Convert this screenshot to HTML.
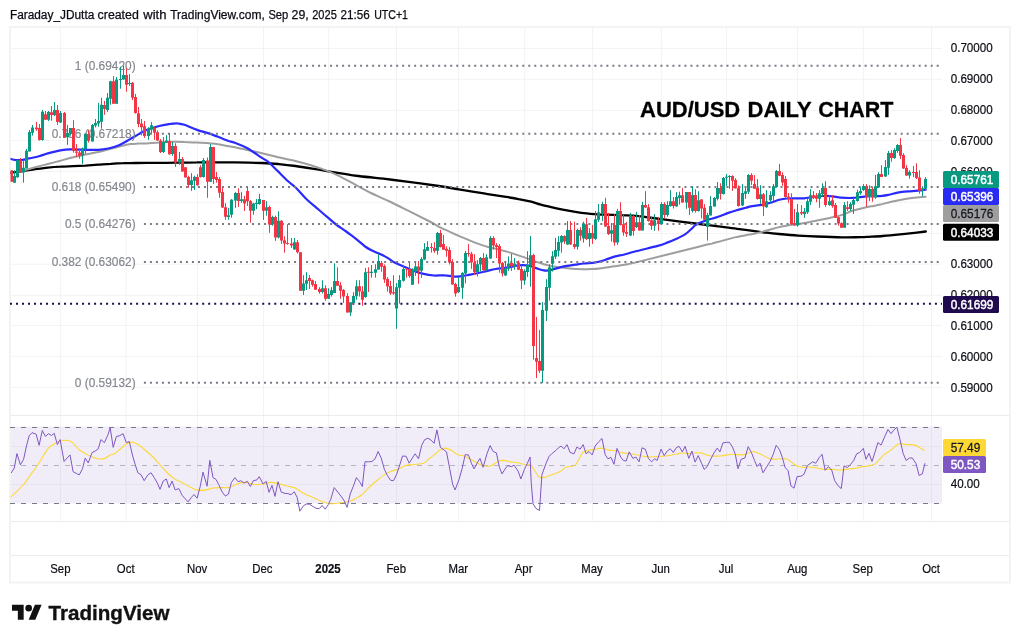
<!DOCTYPE html>
<html lang="en">
<head>
<meta charset="utf-8">
<title>AUD/USD Daily Chart</title>
<style>
html,body{margin:0;padding:0;background:#fff;}
body{width:1020px;height:643px;overflow:hidden;font-family:"Liberation Sans", sans-serif;}
svg{display:block;}
</style>
</head>
<body>
<svg width="1020" height="643" viewBox="0 0 1020 643" font-family='"Liberation Sans", sans-serif'>
<rect width="1020" height="643" fill="#fff"/>
<path d="M60.4 27V521.5M126.2 27V521.5M197.5 27V521.5M263.5 27V521.5M328.7 27V521.5M396.5 27V521.5M458.5 27V521.5M524.7 27V521.5M592.6 27V521.5M661.3 27V521.5M726.5 27V521.5M797.5 27V521.5M863.6 27V521.5M931.5 27V521.5M10 48.4H942M10 79.3H942M10 110.4H942M10 140.4H942M10 171.4H942M10 202.3H942M10 233.4H942M10 264.2H942M10 295.3H942M10 325.5H942M10 356.3H942M10 387.4H942M10 446.5H942M10 484.5H942" stroke="#f3f3f4" stroke-width="1" fill="none"/>
<rect x="10" y="426.5" width="932" height="77.0" fill="#7e57c2" fill-opacity="0.11"/>
<path d="M10 415.5H1010M10 521.5H1010M10 555.5H1010" stroke="#ebebed" stroke-width="1" fill="none"/>
<rect x="10" y="27" width="1000" height="555.5" fill="none" stroke="#f3f3f4" stroke-width="2"/>
<clipPath id="pc"><rect x="10.5" y="27" width="931.5" height="495"/></clipPath>
<text y="18.9" font-size="12" fill="#0b0d14" stroke="#0b0d14" stroke-width="0.25"><tspan x="9.9" textLength="84.4" lengthAdjust="spacingAndGlyphs">Faraday_JDutta</tspan> <tspan x="97.6" textLength="41.2" lengthAdjust="spacingAndGlyphs">created</tspan> <tspan x="143.3" textLength="23.2" lengthAdjust="spacingAndGlyphs">with</tspan> <tspan x="170.2" textLength="94.6" lengthAdjust="spacingAndGlyphs">TradingView.com,</tspan> <tspan x="268.4" textLength="19.8" lengthAdjust="spacingAndGlyphs">Sep</tspan> <tspan x="291.5" textLength="17.2" lengthAdjust="spacingAndGlyphs">29,</tspan> <tspan x="312.2" textLength="24.6" lengthAdjust="spacingAndGlyphs">2025</tspan> <tspan x="340.6" textLength="29.2" lengthAdjust="spacingAndGlyphs">21:56</tspan> <tspan x="374.2" textLength="33.8" lengthAdjust="spacingAndGlyphs">UTC+1</tspan></text>
<g clip-path="url(#pc)">
<path d="M10.0 172.8C12.1 172.6 18.4 171.8 22.6 171.2C26.8 170.6 31.0 169.8 35.2 169.2C39.4 168.6 43.6 168.1 47.8 167.6C52.0 167.2 56.2 166.9 60.4 166.7C64.6 166.4 68.8 166.3 73.0 166.1C77.2 165.9 81.4 165.8 85.6 165.6C89.8 165.3 94.0 165.0 98.2 164.7C102.4 164.4 106.6 164.0 110.8 163.8C115.0 163.5 119.2 163.3 123.4 163.2C127.6 163.0 130.0 163.1 136.0 163.0C142.0 163.0 154.1 162.9 159.2 162.8C164.3 162.8 162.6 162.8 166.8 162.8C171.0 162.7 179.4 162.7 184.4 162.6C189.4 162.5 192.8 162.4 197.0 162.4C201.2 162.3 205.4 162.4 209.6 162.4C213.8 162.4 218.0 162.3 222.2 162.3C226.4 162.3 228.2 162.3 234.8 162.4C241.4 162.6 254.8 162.8 262.0 163.0C269.2 163.3 272.5 163.5 278.1 164.0C283.7 164.5 287.3 164.8 295.6 166.0C304.0 167.2 317.8 169.7 328.3 171.3C338.7 173.0 349.2 174.7 358.4 176.0C367.6 177.2 375.1 177.8 383.5 178.7C391.9 179.7 399.4 180.7 408.6 181.9C417.8 183.1 430.3 184.8 438.7 186.0C447.1 187.3 451.3 188.1 458.8 189.4C466.3 190.6 476.0 192.2 483.9 193.4C491.8 194.7 500.2 196.0 506.0 196.9C511.8 197.8 514.4 198.2 518.6 199.1C522.8 199.9 527.6 200.9 531.2 201.7C534.8 202.6 536.9 203.5 540.0 204.4C543.2 205.3 546.3 206.0 550.1 206.9C553.9 207.8 558.5 208.8 562.7 209.6C566.9 210.4 571.3 211.2 575.3 211.8C579.3 212.5 583.5 213.1 586.6 213.4C589.8 213.8 590.8 213.9 594.2 214.1C597.5 214.3 602.6 214.6 606.8 214.7C611.0 214.9 614.9 214.9 619.4 215.1C623.9 215.2 630.1 215.4 634.0 215.7C637.9 215.9 638.0 216.1 642.6 216.6C647.2 217.2 655.2 218.3 661.5 219.2C667.8 220.0 674.1 220.8 680.4 221.6C686.7 222.4 693.0 223.2 699.3 224.0C705.6 224.8 711.9 225.6 718.2 226.4C724.5 227.2 730.5 227.9 737.1 228.8C743.7 229.7 753.1 231.0 758.0 231.7C762.9 232.4 763.1 232.4 766.6 232.7C770.1 233.1 773.9 233.5 779.2 234.0C784.4 234.5 791.8 235.2 798.1 235.6C804.4 236.0 809.6 236.3 817.0 236.5C824.3 236.8 834.8 237.2 842.2 237.3C849.5 237.4 857.0 237.2 861.1 237.2C865.2 237.1 863.1 237.0 866.7 236.8C870.3 236.6 877.1 236.4 882.7 236.0C888.2 235.6 894.3 235.0 900.0 234.4C905.7 233.8 912.4 233.1 916.7 232.6C921.0 232.1 924.3 231.7 925.8 231.5" stroke="#000" stroke-width="2.3" fill="none" stroke-linejoin="round" stroke-linecap="round"/>
<path d="M25.1 170.1C26.8 169.6 31.4 168.3 35.2 167.3C39.0 166.3 43.6 165.1 47.8 164.0C52.0 162.9 56.2 161.9 60.4 160.8C64.6 159.6 68.8 158.3 73.0 157.3C77.2 156.2 81.4 155.5 85.6 154.6C89.8 153.7 94.0 152.9 98.2 152.0C102.4 151.0 106.6 149.9 110.8 148.8C115.0 147.8 120.0 146.3 123.4 145.5C126.7 144.7 128.5 144.3 130.9 144.0C133.4 143.7 135.4 143.7 138.0 143.6C140.6 143.5 143.1 143.6 146.6 143.4C150.1 143.2 155.0 142.6 159.2 142.4C163.4 142.1 167.6 141.9 171.8 141.8C176.0 141.7 180.2 141.8 184.4 142.0C188.6 142.1 192.8 142.4 197.0 142.6C201.2 142.8 205.4 142.8 209.6 143.2C213.8 143.5 218.0 144.2 222.2 144.9C226.4 145.6 230.6 146.5 234.8 147.3C239.0 148.2 242.9 148.9 247.4 149.9C251.9 150.8 256.9 151.9 262.0 153.2C267.1 154.4 272.1 155.9 278.1 157.3C284.1 158.8 291.0 159.9 298.2 161.7C305.3 163.6 314.1 166.1 320.7 168.4C327.4 170.8 332.0 172.6 338.3 175.6C344.6 178.6 353.0 183.5 358.4 186.4C363.8 189.3 365.9 190.6 370.9 193.0C376.0 195.4 382.2 198.0 388.5 201.0C394.8 203.9 401.9 207.5 408.6 210.8C415.3 214.2 423.2 218.2 428.7 221.0C434.1 223.8 437.7 226.0 441.2 227.8C444.8 229.6 447.3 230.6 450.0 231.9C452.8 233.1 454.2 234.0 457.6 235.4C461.0 236.9 466.0 238.9 470.2 240.6C474.4 242.3 479.4 244.3 482.8 245.4C486.1 246.6 487.2 246.7 490.3 247.5C493.5 248.3 498.4 249.3 501.7 250.2C505.0 251.0 507.6 251.9 510.0 252.6C512.4 253.3 513.4 253.7 516.1 254.6C518.8 255.5 523.0 257.0 526.2 258.1C529.3 259.2 532.0 260.4 535.0 261.4C537.9 262.4 540.6 263.3 543.8 264.2C546.9 265.0 550.5 265.8 553.9 266.4C557.2 267.0 560.2 267.4 564.0 267.8C567.7 268.2 571.9 268.7 576.6 268.9C581.2 269.1 587.0 269.3 591.7 269.1C596.3 268.9 600.1 268.3 604.3 267.8C608.5 267.3 613.1 266.5 616.9 265.9C620.6 265.3 624.1 264.8 626.9 264.3C629.8 263.8 621.7 265.9 634.0 262.9C646.3 259.9 687.6 249.4 700.6 246.2C713.5 242.9 707.9 244.6 711.9 243.6C715.9 242.5 720.3 241.2 724.5 240.1C728.7 239.0 732.9 237.9 737.1 236.9C741.3 236.0 746.2 235.2 749.7 234.5C753.2 233.9 755.2 233.6 758.0 232.9C760.8 232.2 763.1 231.5 766.6 230.5C770.1 229.6 775.0 228.1 779.2 227.1C783.4 226.2 787.6 225.3 791.8 224.7C796.0 224.0 800.2 223.7 804.4 223.0C808.6 222.3 812.8 221.3 817.0 220.5C821.2 219.6 825.4 218.8 829.6 217.9C833.8 217.0 838.4 216.1 842.2 214.9C846.0 213.7 848.6 212.0 852.3 210.8C855.9 209.6 860.7 208.5 864.2 207.7C867.8 206.9 871.0 206.4 873.7 205.9C876.4 205.4 877.4 205.2 880.3 204.6C883.3 203.9 887.4 202.7 891.3 201.8C895.2 200.9 899.7 200.0 903.9 199.3C908.1 198.6 912.9 198.0 916.5 197.6C920.1 197.2 924.0 196.8 925.6 196.7" stroke="#9e9e9e" stroke-width="2.0" fill="none" stroke-linejoin="round" stroke-linecap="round"/>
<path d="M10.0 158.7C11.0 159.0 14.2 159.9 16.3 160.1C18.4 160.3 20.5 160.2 22.6 159.9C24.7 159.6 26.2 159.0 28.9 158.4C31.6 157.8 35.8 157.2 39.0 156.3C42.1 155.5 44.2 154.4 47.8 153.4C51.4 152.4 56.6 151.0 60.4 150.3C64.2 149.6 66.3 149.4 70.5 149.3C74.7 149.2 81.0 149.8 85.6 149.9C90.2 149.9 94.4 150.0 98.2 149.8C102.0 149.6 104.7 149.3 108.3 148.5C111.8 147.7 116.0 146.4 119.6 144.9C123.2 143.4 126.4 141.3 129.7 139.4C132.9 137.6 136.3 135.5 139.1 133.9C142.0 132.4 143.3 131.2 146.6 129.9C149.9 128.6 155.2 127.0 159.2 126.0C163.2 125.0 167.4 124.3 170.5 123.9C173.7 123.4 175.8 123.4 178.1 123.5C180.4 123.7 181.2 123.7 184.4 124.8C187.5 125.9 192.8 128.4 197.0 129.9C201.2 131.4 205.4 132.2 209.6 133.6C213.8 135.0 219.0 137.3 222.2 138.5C225.3 139.7 226.4 140.2 228.5 141.0C230.6 141.7 231.6 141.6 234.8 142.8C237.9 144.0 242.9 145.7 247.4 148.2C251.9 150.8 258.6 155.7 262.0 157.9C265.4 160.2 265.4 159.4 268.0 161.6C270.7 163.9 274.7 168.1 278.1 171.4C281.4 174.7 285.2 178.6 288.1 181.3C291.0 184.0 292.5 184.4 295.6 187.5C298.8 190.5 303.3 196.1 307.1 199.8C310.9 203.4 314.9 206.4 318.5 209.5C322.0 212.6 325.6 215.7 328.6 218.2C331.5 220.7 333.2 222.3 336.1 224.5C339.0 226.7 342.8 229.1 346.2 231.5C349.5 234.0 353.1 236.6 356.3 239.1C359.4 241.6 362.6 244.6 365.1 246.5C367.6 248.3 369.1 249.1 371.4 250.3C373.7 251.5 376.3 252.4 378.9 253.6C381.6 254.8 384.5 256.1 387.1 257.6C389.8 259.1 391.9 261.0 394.6 262.5C397.3 264.0 400.3 265.1 403.4 266.4C406.6 267.8 410.1 269.5 413.5 270.7C416.9 272.0 420.2 273.1 423.6 273.9C426.9 274.7 430.1 275.2 433.7 275.5C437.2 275.7 441.8 275.2 445.0 275.4C448.1 275.5 450.0 276.2 452.6 276.4C455.1 276.6 457.2 276.7 460.1 276.4C463.0 276.1 466.4 275.3 470.2 274.6C474.0 273.9 478.6 273.0 482.8 272.0C487.0 271.1 492.0 269.7 495.4 269.0C498.7 268.4 500.5 268.4 502.9 268.1C505.4 267.8 507.4 267.7 510.0 267.2C512.6 266.7 515.5 265.5 518.6 265.3C521.7 265.0 525.6 265.0 528.7 265.6C531.7 266.1 534.3 267.6 536.9 268.4C539.4 269.2 541.8 270.1 543.8 270.4C545.8 270.8 546.7 270.6 548.8 270.3C550.9 269.9 553.9 269.1 556.4 268.4C558.9 267.8 560.8 267.0 564.0 266.4C567.1 265.8 571.9 265.2 575.3 264.7C578.7 264.2 581.0 263.8 584.1 263.5C587.3 263.1 590.8 263.2 594.2 262.7C597.5 262.1 600.9 261.2 604.3 260.2C607.6 259.2 611.0 257.6 614.3 256.6C617.7 255.7 621.1 255.3 624.4 254.5C627.7 253.7 628.5 253.2 634.0 251.8C639.5 250.3 652.1 247.4 657.7 245.9C663.3 244.3 664.6 243.6 667.8 242.4C670.9 241.2 673.7 240.0 676.6 238.7C679.6 237.3 683.1 235.6 685.4 234.1C687.7 232.6 688.8 231.3 690.5 229.8C692.2 228.3 693.8 226.3 695.5 225.0C697.2 223.8 698.5 223.3 700.6 222.4C702.7 221.5 705.2 220.8 708.1 219.8C711.0 218.9 714.8 218.0 718.2 216.8C721.5 215.7 725.1 214.0 728.3 212.9C731.4 211.8 734.1 211.0 737.1 210.1C740.0 209.3 743.6 208.4 745.9 207.8C748.2 207.2 748.6 206.8 750.9 206.4C753.3 206.0 756.5 205.8 759.8 205.2C763.0 204.6 767.1 203.6 770.4 202.7C773.6 201.8 776.5 200.5 779.2 199.8C781.9 199.1 784.0 198.7 786.8 198.5C789.5 198.3 792.6 198.4 795.6 198.4C798.5 198.4 801.7 198.5 804.4 198.3C807.1 198.1 809.0 197.5 812.0 197.2C814.9 196.8 818.9 196.1 822.0 196.0C825.2 195.8 827.7 195.9 830.8 196.2C834.0 196.4 837.3 197.3 840.9 197.6C844.5 197.9 849.0 198.1 852.6 197.9C856.1 197.8 859.2 197.1 862.3 196.8C865.4 196.5 867.8 196.3 871.1 196.2C874.5 196.0 879.1 196.1 882.2 195.8C885.4 195.6 887.5 195.0 890.0 194.5C892.6 193.9 894.7 193.1 897.6 192.6C900.5 192.1 904.3 191.7 907.7 191.4C911.0 191.1 914.8 190.9 917.7 190.6C920.7 190.3 924.3 189.9 925.6 189.7" stroke="#2a2aff" stroke-width="2.2" fill="none" stroke-linejoin="round" stroke-linecap="round"/>
</g>
<line x1="143.9" x2="939.5" y1="65.8" y2="65.8" stroke="#787b86" stroke-width="2" stroke-dasharray="2 4.006"/>
<text transform="translate(135.60 70.10) scale(0.9520 1)" font-size="12.5" text-anchor="end" fill="#85888f" stroke="#85888f" stroke-width="0.2">1 (0.69420)</text>
<line x1="143.9" x2="939.5" y1="133.8" y2="133.8" stroke="#787b86" stroke-width="2" stroke-dasharray="2 4.006"/>
<text transform="translate(135.60 138.10) scale(0.9520 1)" font-size="12.5" text-anchor="end" fill="#85888f" stroke="#85888f" stroke-width="0.2">0.786 (0.67218)</text>
<line x1="143.9" x2="939.5" y1="187.0" y2="187.0" stroke="#787b86" stroke-width="2" stroke-dasharray="2 4.006"/>
<text transform="translate(135.60 191.30) scale(0.9520 1)" font-size="12.5" text-anchor="end" fill="#85888f" stroke="#85888f" stroke-width="0.2">0.618 (0.65490)</text>
<line x1="143.9" x2="939.5" y1="224.0" y2="224.0" stroke="#787b86" stroke-width="2" stroke-dasharray="2 4.006"/>
<text transform="translate(135.60 228.30) scale(0.9520 1)" font-size="12.5" text-anchor="end" fill="#85888f" stroke="#85888f" stroke-width="0.2">0.5 (0.64276)</text>
<line x1="143.9" x2="939.5" y1="262.1" y2="262.1" stroke="#787b86" stroke-width="2" stroke-dasharray="2 4.006"/>
<text transform="translate(135.60 266.40) scale(0.9520 1)" font-size="12.5" text-anchor="end" fill="#85888f" stroke="#85888f" stroke-width="0.2">0.382 (0.63062)</text>
<line x1="143.9" x2="939.5" y1="382.8" y2="382.8" stroke="#787b86" stroke-width="2" stroke-dasharray="2 4.006"/>
<text transform="translate(135.60 387.10) scale(0.9520 1)" font-size="12.5" text-anchor="end" fill="#85888f" stroke="#85888f" stroke-width="0.2">0 (0.59132)</text>
<line x1="10.0" x2="942" y1="303.8" y2="303.8" stroke="#1f0a4d" stroke-width="2" stroke-dasharray="2 4.006"/>
<line x1="10" x2="939" y1="427.5" y2="427.5" stroke="#787b86" stroke-width="1" stroke-dasharray="5 6"/>
<line x1="10" x2="939" y1="465.5" y2="465.5" stroke="#b2b5be" stroke-width="1" stroke-dasharray="5 6"/>
<line x1="10" x2="939" y1="503.5" y2="503.5" stroke="#787b86" stroke-width="1" stroke-dasharray="5 6"/>
<g clip-path="url(#pc)">
<path d="M14.5 170.3V182.7M17.5 159.6V177.9M23.5 160.2V182.7M26.5 148.9V168.4M29.5 129.9V151.4M32.5 124.9V135.6M42.5 110.0V140.7M48.5 111.0V121.1M54.5 102.0V116.1M60.5 111.0V123.0M67.5 124.9V144.9M70.5 128.0V135.6M82.5 147.6V163.8M85.5 133.4V153.9M92.5 124.0V141.6M95.5 119.0V127.4M98.5 102.8V126.8M101.5 97.8V128.7M107.5 93.0V111.9M110.5 80.8V104.7M116.5 77.0V103.8M120.5 66.9V88.7M123.5 65.7V79.5M129.5 74.1V85.8M148.5 127.2V139.8M151.5 122.1V133.5M163.5 137.2V153.0M166.5 135.1V142.9M172.5 141.9V155.8M179.5 152.0V164.9M191.5 173.2V190.9M194.5 175.7V190.0M203.5 158.0V177.6M210.5 143.9V181.7M228.5 207.9V219.8M231.5 199.1V217.7M235.5 192.1V207.9M241.5 192.1V202.8M253.5 202.8V214.8M256.5 199.1V209.1M259.5 193.8V204.7M266.5 201.3V215.7M272.5 215.7V225.8M278.5 211.3V238.4M294.5 238.0V249.8M303.5 275.2V295.0M306.5 272.1V290.0M322.5 280.3V293.5M328.5 288.2V298.8M331.5 287.2V296.6M334.5 263.3V292.9M350.5 302.3V315.9M353.5 292.2V304.8M356.5 280.3V299.8M365.5 268.0V297.9M371.5 265.1V277.7M375.5 264.3V277.7M378.5 253.9V269.7M396.5 283.2V328.8M399.5 275.2V303.6M403.5 265.2V281.5M412.5 268.3V284.7M415.5 262.6V275.9M421.5 257.2V277.8M424.5 243.1V260.1M427.5 241.2V250.7M437.5 232.0V254.7M458.5 277.8V292.9M462.5 272.1V298.8M465.5 250.9V283.4M477.5 260.1V276.5M480.5 257.0V271.5M486.5 254.2V270.8M490.5 236.2V258.9M505.5 261.8V275.9M508.5 256.3V270.9M514.5 258.0V269.7M524.5 269.3V284.8M527.5 251.2V276.9M530.5 236.1V286.7M542.5 302.1V382.9M546.5 279.2V321.1M549.5 264.3V300.6M552.5 251.2V271.6M555.5 237.9V259.0M558.5 236.1V256.5M561.5 235.1V252.7M567.5 221.1V244.9M577.5 228.7V249.6M583.5 221.7V242.6M589.5 228.1V246.7M595.5 211.0V239.9M598.5 204.1V222.0M602.5 201.8V221.1M611.5 223.0V241.6M617.5 208.9V244.9M630.5 212.9V236.2M636.5 211.9V228.0M642.5 201.8V230.5M654.5 214.1V230.8M661.5 202.2V224.0M667.5 201.3V216.7M670.5 190.2V206.6M676.5 192.1V206.6M679.5 191.7V204.7M686.5 192.1V208.8M692.5 186.2V212.6M698.5 191.2V211.6M707.5 212.9V240.6M710.5 196.2V215.4M714.5 197.1V206.6M717.5 182.0V200.5M723.5 177.0V194.6M726.5 174.1V185.8M729.5 175.1V188.7M742.5 184.1V205.9M745.5 186.7V198.8M748.5 174.1V194.0M760.5 185.2V203.8M766.5 190.2V207.8M770.5 191.2V202.8M773.5 183.9V200.9M776.5 170.0V187.7M797.5 204.1V226.7M804.5 208.1V217.9M807.5 199.0V213.9M810.5 189.2V205.1M819.5 190.2V207.8M822.5 183.3V196.5M829.5 195.2V205.9M844.5 202.2V227.7M850.5 202.2V211.0M853.5 198.0V213.9M857.5 189.7V201.7M860.5 187.2V194.8M863.5 184.1V191.0M869.5 185.3V201.1M875.5 174.9V198.8M878.5 172.1V187.8M885.5 160.1V176.9M888.5 150.9V174.9M894.5 148.2V158.9M897.5 144.1V152.9M909.5 170.2V178.6M922.5 186.2V196.0M925.5 177.1V189.7" stroke="#089981" stroke-width="1" fill="none"/>
<path d="M11.5 170.3V181.7M20.5 158.0V172.6M36.5 122.1V130.8M39.5 124.0V140.7M45.5 111.0V119.8M51.5 106.0V120.7M57.5 105.0V124.9M64.5 111.9V137.9M73.5 120.2V152.7M76.5 144.1V157.1M79.5 148.3V158.7M88.5 129.9V142.6M104.5 100.9V114.8M113.5 76.1V103.8M126.5 68.2V91.7M132.5 82.0V100.1M135.5 93.9V113.7M138.5 107.0V127.2M141.5 119.0V135.4M144.5 120.9V137.9M154.5 127.2V139.8M157.5 130.3V141.0M160.5 139.1V153.0M169.5 133.1V154.9M175.5 143.2V166.9M182.5 157.0V171.6M185.5 167.2V177.6M188.5 175.7V187.7M197.5 174.1V185.8M200.5 165.2V177.6M207.5 157.4V197.8M213.5 146.9V183.9M216.5 172.0V182.7M219.5 177.0V197.8M222.5 188.0V207.9M225.5 203.1V219.8M238.5 188.3V206.9M244.5 195.9V211.0M247.5 187.1V206.0M250.5 200.1V222.7M263.5 200.0V219.9M269.5 205.7V232.8M275.5 215.7V240.9M281.5 220.2V243.8M284.5 236.3V252.7M287.5 224.2V244.7M291.5 238.0V247.9M297.5 240.1V253.5M300.5 252.3V290.7M309.5 275.2V289.1M312.5 279.6V286.6M315.5 281.1V289.7M319.5 287.2V293.7M325.5 285.3V300.8M337.5 267.3V285.9M340.5 282.2V298.8M343.5 289.1V302.9M347.5 293.2V312.6M359.5 280.3V296.6M362.5 286.2V305.8M368.5 267.3V292.0M381.5 261.1V271.8M384.5 264.5V282.8M387.5 277.1V291.6M390.5 280.9V294.8M393.5 275.2V294.8M406.5 268.1V277.8M409.5 263.0V277.8M418.5 261.0V283.7M431.5 243.1V252.6M434.5 242.1V252.9M440.5 229.9V247.5M443.5 234.9V249.7M446.5 246.3V256.7M449.5 247.1V264.5M452.5 259.2V284.7M455.5 282.8V296.7M468.5 244.1V256.7M471.5 251.9V268.9M474.5 254.2V274.6M483.5 253.2V272.7M493.5 236.2V249.7M496.5 243.1V258.0M499.5 244.1V272.7M502.5 262.0V276.5M511.5 254.0V271.0M518.5 260.5V270.1M521.5 265.6V289.0M533.5 253.7V359.8M536.5 317.0V378.1M539.5 329.9V373.0M564.5 235.3V243.9M570.5 221.1V244.9M574.5 221.7V248.9M580.5 227.3V240.7M586.5 218.0V239.9M592.5 224.9V243.9M605.5 197.8V226.8M608.5 212.9V235.0M614.5 214.2V245.8M620.5 202.2V225.5M623.5 214.8V235.8M626.5 222.0V236.9M633.5 215.1V235.6M639.5 215.1V230.5M645.5 191.2V207.8M648.5 204.1V221.7M651.5 216.9V229.9M658.5 217.3V230.8M664.5 202.2V218.5M673.5 197.1V208.5M682.5 187.9V202.8M689.5 192.1V214.8M695.5 189.2V212.6M701.5 199.0V218.5M704.5 204.1V219.8M720.5 183.3V199.6M732.5 175.3V190.8M735.5 178.2V188.7M738.5 185.4V206.6M751.5 173.2V184.9M754.5 175.1V188.7M757.5 179.1V199.6M763.5 193.0V216.0M779.5 163.9V176.1M782.5 172.3V185.8M785.5 176.1V197.5M788.5 193.0V202.8M791.5 193.3V224.8M794.5 209.1V225.5M801.5 205.1V215.1M813.5 191.2V199.0M816.5 193.0V202.2M825.5 181.1V206.8M832.5 195.2V207.8M835.5 203.0V217.9M838.5 216.7V225.7M841.5 222.3V228.0M847.5 201.3V211.0M866.5 184.1V206.7M872.5 187.2V201.7M881.5 165.2V177.1M891.5 150.0V161.8M900.5 138.1V158.9M903.5 153.2V168.9M906.5 165.2V175.9M913.5 166.0V177.1M916.5 163.3V179.0M919.5 170.2V193.8" stroke="#f23645" stroke-width="1" fill="none"/>
<path d="M13.0 176.0h3V182.7h-3zM16.0 160.2h3V177.2h-3zM22.0 167.8h3V172.6h-3zM25.0 150.8h3V168.4h-3zM28.0 131.9h3V151.4h-3zM31.0 127.4h3V132.8h-3zM41.0 111.7h3V140.1h-3zM47.0 111.9h3V119.8h-3zM53.0 110.1h3V115.2h-3zM59.0 112.9h3V122.4h-3zM66.0 133.1h3V137.3h-3zM69.0 128.0h3V133.7h-3zM81.0 148.3h3V155.8h-3zM84.0 133.7h3V148.9h-3zM91.0 124.9h3V141.6h-3zM94.0 123.0h3V125.5h-3zM97.0 121.1h3V123.6h-3zM100.0 104.7h3V121.7h-3zM106.0 97.8h3V110.1h-3zM109.0 81.2h3V98.8h-3zM115.0 79.5h3V103.8h-3zM119.0 78.9h3V79.9h-3zM122.0 75.1h3V79.5h-3zM128.0 82.9h3V83.9h-3zM147.0 128.4h3V136.0h-3zM150.0 125.3h3V129.7h-3zM162.0 141.9h3V152.0h-3zM165.0 140.4h3V142.7h-3zM171.0 146.1h3V154.0h-3zM178.0 159.0h3V162.4h-3zM190.0 180.2h3V184.9h-3zM193.0 177.0h3V180.8h-3zM202.0 159.9h3V177.0h-3zM209.0 146.9h3V181.7h-3zM227.0 215.2h3V216.9h-3zM230.0 199.7h3V214.8h-3zM234.0 193.0h3V200.6h-3zM240.0 199.3h3V200.9h-3zM252.0 203.5h3V210.8h-3zM255.0 202.8h3V204.1h-3zM258.0 199.1h3V203.9h-3zM265.0 207.3h3V210.7h-3zM271.0 217.0h3V224.6h-3zM277.0 220.8h3V237.5h-3zM293.0 242.2h3V249.4h-3zM302.0 283.4h3V290.7h-3zM305.0 280.3h3V283.7h-3zM321.0 288.2h3V292.0h-3zM327.0 294.1h3V298.8h-3zM330.0 290.3h3V295.0h-3zM333.0 281.1h3V292.9h-3zM349.0 302.3h3V312.6h-3zM352.0 296.0h3V302.9h-3zM355.0 286.2h3V296.3h-3zM364.0 272.3h3V297.0h-3zM370.0 271.8h3V273.1h-3zM374.0 269.3h3V272.7h-3zM377.0 261.1h3V269.6h-3zM395.0 287.2h3V308.6h-3zM398.0 279.9h3V287.8h-3zM402.0 268.9h3V280.7h-3zM411.0 269.6h3V284.7h-3zM414.0 266.4h3V271.5h-3zM420.0 258.9h3V270.8h-3zM423.0 249.2h3V259.5h-3zM426.0 246.9h3V250.7h-3zM436.0 233.0h3V250.7h-3zM457.0 287.0h3V292.3h-3zM461.0 273.1h3V287.8h-3zM464.0 252.9h3V273.6h-3zM476.0 264.3h3V272.1h-3zM479.0 258.0h3V264.5h-3zM485.0 257.2h3V270.2h-3zM489.0 238.1h3V258.5h-3zM504.0 268.3h3V275.6h-3zM507.0 263.5h3V268.5h-3zM513.0 263.4h3V266.6h-3zM523.0 271.0h3V280.4h-3zM526.0 264.7h3V271.9h-3zM529.0 255.2h3V265.6h-3zM541.0 310.0h3V370.8h-3zM545.0 287.0h3V310.7h-3zM548.0 267.2h3V287.7h-3zM551.0 256.2h3V263.8h-3zM554.0 249.9h3V256.7h-3zM557.0 242.0h3V250.8h-3zM560.0 236.1h3V242.4h-3zM566.0 230.0h3V244.5h-3zM576.0 230.0h3V246.7h-3zM582.0 223.6h3V238.6h-3zM588.0 233.1h3V238.9h-3zM594.0 219.2h3V238.9h-3zM597.0 212.3h3V219.8h-3zM601.0 204.1h3V213.5h-3zM610.0 230.3h3V233.7h-3zM616.0 211.0h3V242.6h-3zM629.0 215.4h3V235.6h-3zM635.0 222.3h3V227.0h-3zM641.0 205.1h3V230.5h-3zM653.0 220.2h3V225.7h-3zM660.0 204.1h3V224.0h-3zM666.0 205.1h3V215.1h-3zM669.0 201.3h3V205.9h-3zM675.0 197.1h3V206.6h-3zM678.0 195.2h3V198.0h-3zM685.0 192.1h3V202.5h-3zM691.0 195.0h3V211.0h-3zM697.0 200.3h3V211.0h-3zM706.0 215.1h3V226.7h-3zM709.0 205.9h3V215.4h-3zM713.0 198.0h3V206.6h-3zM716.0 187.9h3V198.8h-3zM722.0 177.9h3V194.0h-3zM725.0 176.8h3V177.8h-3zM728.0 176.0h3V177.0h-3zM741.0 193.0h3V205.6h-3zM744.0 191.2h3V193.7h-3zM747.0 175.1h3V191.7h-3zM759.0 194.2h3V199.0h-3zM765.0 201.3h3V207.2h-3zM769.0 195.0h3V200.3h-3zM772.0 186.2h3V195.9h-3zM775.0 171.0h3V187.0h-3zM796.0 212.2h3V225.5h-3zM803.0 211.4h3V213.9h-3zM806.0 201.3h3V212.2h-3zM809.0 195.2h3V201.8h-3zM818.0 193.3h3V198.8h-3zM821.0 187.9h3V194.0h-3zM828.0 201.3h3V205.1h-3zM843.0 205.1h3V227.7h-3zM849.0 204.1h3V209.1h-3zM852.0 200.0h3V204.7h-3zM856.0 192.3h3V201.1h-3zM859.0 191.0h3V193.3h-3zM862.0 186.0h3V190.0h-3zM868.0 189.1h3V197.0h-3zM874.0 186.2h3V197.5h-3zM877.0 174.0h3V187.5h-3zM884.0 167.1h3V176.5h-3zM887.0 152.9h3V167.7h-3zM893.0 150.0h3V158.0h-3zM896.0 145.0h3V150.9h-3zM908.0 172.1h3V175.6h-3zM921.0 188.2h3V190.7h-3zM924.0 179.0h3V188.7h-3z" fill="#089981"/>
<path d="M10.0 170.3h3V181.7h-3zM19.0 160.2h3V172.6h-3zM35.0 127.4h3V129.3h-3zM38.0 128.0h3V140.1h-3zM44.0 114.2h3V119.8h-3zM50.0 112.3h3V115.1h-3zM56.0 110.1h3V122.0h-3zM63.0 112.9h3V137.7h-3zM72.0 128.0h3V150.8h-3zM75.0 151.4h3V152.7h-3zM78.0 152.4h3V155.8h-3zM87.0 134.1h3V140.7h-3zM103.0 105.1h3V109.1h-3zM112.0 81.2h3V103.8h-3zM125.0 75.1h3V84.8h-3zM131.0 82.7h3V97.8h-3zM134.0 97.0h3V113.1h-3zM137.0 113.3h3V124.0h-3zM140.0 123.4h3V127.2h-3zM143.0 126.3h3V136.0h-3zM153.0 127.8h3V132.8h-3zM156.0 132.2h3V140.4h-3zM159.0 140.4h3V152.0h-3zM168.0 141.0h3V154.3h-3zM174.0 146.1h3V162.4h-3zM181.0 159.0h3V171.6h-3zM184.0 167.2h3V177.6h-3zM187.0 177.0h3V184.9h-3zM196.0 177.0h3V185.2h-3zM199.0 167.3h3V177.0h-3zM206.0 160.6h3V181.7h-3zM212.0 146.9h3V178.9h-3zM215.0 177.0h3V179.9h-3zM218.0 178.9h3V192.8h-3zM221.0 192.1h3V207.6h-3zM224.0 207.2h3V216.7h-3zM237.0 193.0h3V200.9h-3zM243.0 199.3h3V203.5h-3zM246.0 190.9h3V201.3h-3zM249.0 200.9h3V210.8h-3zM262.0 200.0h3V210.7h-3zM268.0 206.9h3V224.6h-3zM274.0 217.0h3V237.5h-3zM280.0 220.8h3V240.6h-3zM283.0 240.3h3V243.5h-3zM286.0 243.1h3V244.1h-3zM290.0 243.5h3V245.6h-3zM296.0 242.2h3V252.3h-3zM299.0 252.3h3V290.7h-3zM308.0 278.1h3V280.9h-3zM311.0 280.3h3V284.7h-3zM314.0 284.0h3V289.7h-3zM318.0 289.1h3V292.0h-3zM324.0 288.2h3V298.8h-3zM336.0 281.1h3V285.7h-3zM339.0 285.3h3V290.7h-3zM342.0 290.0h3V296.6h-3zM346.0 296.0h3V312.6h-3zM358.0 286.2h3V291.6h-3zM361.0 291.2h3V299.8h-3zM367.0 271.8h3V272.8h-3zM380.0 263.0h3V266.8h-3zM383.0 266.1h3V279.6h-3zM386.0 279.0h3V286.6h-3zM389.0 286.0h3V293.3h-3zM392.0 292.3h3V293.5h-3zM405.0 268.6h3V269.6h-3zM408.0 268.9h3V275.9h-3zM417.0 266.4h3V270.8h-3zM430.0 246.9h3V247.9h-3zM433.0 247.9h3V250.9h-3zM439.0 233.0h3V246.9h-3zM442.0 244.1h3V249.7h-3zM445.0 248.8h3V250.7h-3zM448.0 250.0h3V262.6h-3zM451.0 262.0h3V284.4h-3zM454.0 284.1h3V293.5h-3zM467.0 252.9h3V253.9h-3zM470.0 253.8h3V262.6h-3zM473.0 262.6h3V272.1h-3zM482.0 258.0h3V270.2h-3zM492.0 238.1h3V245.6h-3zM495.0 245.0h3V246.9h-3zM498.0 245.9h3V263.5h-3zM501.0 263.0h3V273.6h-3zM510.0 263.0h3V266.3h-3zM517.0 262.5h3V269.7h-3zM520.0 269.1h3V280.4h-3zM532.0 255.0h3V345.9h-3zM535.0 357.9h3V361.7h-3zM538.0 361.1h3V370.8h-3zM563.0 236.1h3V241.6h-3zM569.0 230.0h3V244.5h-3zM573.0 244.1h3V247.0h-3zM579.0 230.0h3V235.7h-3zM585.0 224.3h3V238.9h-3zM591.0 233.1h3V238.6h-3zM604.0 204.1h3V226.5h-3zM607.0 226.1h3V234.1h-3zM613.0 224.9h3V242.6h-3zM619.0 211.0h3V224.9h-3zM622.0 224.3h3V232.4h-3zM625.0 232.1h3V233.7h-3zM632.0 216.0h3V231.0h-3zM638.0 222.3h3V230.5h-3zM644.0 205.1h3V207.6h-3zM647.0 207.2h3V221.1h-3zM650.0 220.2h3V225.7h-3zM657.0 220.2h3V224.0h-3zM663.0 204.1h3V215.1h-3zM672.0 201.3h3V205.9h-3zM681.0 195.2h3V202.5h-3zM688.0 192.1h3V207.8h-3zM694.0 195.0h3V211.0h-3zM700.0 199.6h3V208.5h-3zM703.0 207.8h3V219.8h-3zM719.0 187.9h3V193.7h-3zM731.0 176.1h3V180.7h-3zM734.0 180.1h3V188.3h-3zM737.0 187.9h3V205.9h-3zM750.0 175.1h3V180.7h-3zM753.0 183.9h3V188.7h-3zM756.0 187.7h3V199.0h-3zM762.0 194.2h3V206.6h-3zM778.0 171.0h3V175.7h-3zM781.0 175.1h3V182.6h-3zM784.0 179.1h3V197.1h-3zM787.0 196.5h3V199.3h-3zM790.0 199.0h3V224.2h-3zM793.0 223.2h3V225.5h-3zM800.0 211.9h3V213.5h-3zM812.0 195.2h3V198.0h-3zM815.0 195.9h3V198.8h-3zM824.0 187.9h3V205.1h-3zM831.0 200.3h3V205.9h-3zM834.0 205.1h3V217.7h-3zM837.0 217.3h3V223.6h-3zM840.0 223.2h3V227.7h-3zM846.0 207.2h3V209.1h-3zM865.0 186.0h3V197.0h-3zM871.0 189.1h3V197.5h-3zM880.0 174.0h3V176.9h-3zM890.0 152.9h3V158.0h-3zM899.0 145.0h3V155.7h-3zM902.0 155.1h3V168.6h-3zM905.0 168.1h3V175.6h-3zM912.0 171.9h3V172.9h-3zM915.0 172.1h3V178.1h-3zM918.0 177.4h3V190.7h-3z" fill="#f23645"/>
<path d="M10.0 497.8C11.1 496.7 14.6 493.5 16.9 491.3C19.2 489.1 21.4 487.2 23.7 484.5C26.0 481.7 28.3 478.0 30.6 474.8C32.9 471.6 35.2 468.7 37.5 465.2C39.7 461.8 42.5 457.1 44.3 454.3C46.1 451.4 46.8 449.8 48.4 448.1C50.0 446.4 52.1 445.1 53.9 444.0C55.8 442.8 57.6 441.8 59.4 441.2C61.2 440.6 63.1 440.3 64.9 440.3C66.7 440.3 68.8 440.5 70.4 441.2C72.0 441.9 73.1 443.3 74.5 444.6C75.9 446.0 76.8 447.6 78.6 449.2C80.5 450.7 83.2 452.5 85.5 453.8C87.8 455.1 90.3 456.2 92.4 457.0C94.4 457.8 95.8 458.6 97.8 458.8C99.9 459.0 102.6 459.0 104.7 458.4C106.8 457.7 108.6 455.7 110.2 454.9C111.8 454.2 112.7 454.8 114.3 453.8C115.9 452.9 118.0 451.0 119.8 449.5C121.6 447.9 123.7 445.8 125.3 444.6C126.9 443.5 128.0 443.0 129.4 442.6C130.8 442.2 131.9 441.9 133.5 442.3C135.1 442.8 137.2 444.1 139.0 445.3C140.8 446.5 142.2 447.5 144.5 449.5C146.8 451.4 150.3 454.5 152.9 457.0C155.4 459.5 157.2 461.8 159.7 464.5C162.2 467.3 165.4 471.1 168.0 473.5C170.5 475.9 172.5 477.5 174.8 479.0C177.1 480.4 179.4 481.2 181.7 482.4C184.0 483.6 186.3 485.0 188.5 486.2C190.8 487.4 193.6 488.8 195.4 489.5C197.2 490.2 197.7 490.3 199.5 490.4C201.4 490.4 204.3 490.3 206.4 489.9C208.5 489.6 209.6 488.7 211.9 488.3C214.2 487.9 217.4 487.7 220.1 487.6C222.9 487.5 226.1 488.0 228.4 487.6C230.6 487.2 231.6 486.3 233.8 485.4C236.1 484.5 239.8 482.8 242.1 482.4C244.4 481.9 245.5 482.3 247.6 482.7C249.6 483.0 251.9 484.2 254.4 484.5C256.9 484.7 259.9 484.4 262.7 484.0C265.4 483.7 268.4 482.5 270.9 482.4C273.4 482.3 274.8 482.8 277.8 483.5C280.8 484.2 285.9 485.7 288.9 486.5C291.9 487.3 293.4 487.1 295.7 488.2C298.0 489.2 300.3 491.4 302.6 492.7C304.9 494.0 307.2 495.0 309.5 496.1C311.7 497.2 314.0 498.2 316.3 499.1C318.6 500.1 321.1 501.1 323.2 501.9C325.2 502.6 326.4 503.4 328.7 503.7C331.0 503.9 334.4 503.5 336.9 503.3C339.4 503.0 341.5 502.7 343.8 502.3C346.1 501.9 348.6 501.6 350.6 500.9C352.7 500.2 354.3 499.2 356.1 498.2C357.9 497.2 359.8 496.5 361.6 495.0C363.4 493.5 365.3 491.1 367.1 489.3C368.9 487.4 370.8 485.6 372.6 484.0C374.4 482.4 376.0 481.2 378.1 479.6C380.1 478.0 382.7 475.8 384.9 474.4C387.2 473.0 389.5 472.1 391.8 471.1C394.1 470.2 396.4 469.9 398.7 468.9C401.0 468.0 403.0 466.4 405.5 465.6C408.0 464.9 410.8 465.0 413.8 464.5C416.8 464.1 421.0 464.1 423.5 463.2C426.0 462.2 427.2 460.2 429.0 458.8C430.8 457.4 432.6 456.1 434.5 454.7C436.3 453.2 438.1 451.2 440.0 450.1C441.8 449.0 443.6 448.1 445.5 448.1C447.3 448.1 448.9 449.0 450.9 450.1C453.0 451.2 455.5 453.6 457.8 454.7C460.1 455.7 462.2 455.3 464.7 456.3C467.2 457.3 470.4 459.3 472.9 460.7C475.4 462.1 477.5 463.6 479.8 464.5C482.1 465.5 484.6 466.1 486.6 466.2C488.7 466.3 490.3 466.0 492.1 465.2C493.9 464.5 495.8 462.6 497.6 461.8C499.4 461.0 500.8 460.4 503.1 460.4C505.4 460.5 509.0 461.7 511.3 462.1C513.6 462.4 514.8 462.1 516.8 462.5C518.9 462.9 521.4 463.8 523.7 464.3C526.0 464.7 528.7 464.2 530.5 465.2C532.4 466.3 533.3 468.8 534.7 470.7C536.0 472.6 537.4 475.5 538.8 476.6C540.2 477.8 541.1 477.8 542.9 477.6C544.7 477.4 547.0 476.5 549.8 475.5C552.5 474.5 556.7 473.1 559.5 471.7C562.3 470.3 563.8 468.0 566.4 467.0C568.9 466.0 572.5 466.9 574.6 465.6C576.6 464.4 577.3 461.9 578.7 459.7C580.1 457.5 581.2 454.0 582.8 452.5C584.4 450.9 586.3 451.1 588.3 450.5C590.4 450.0 592.9 449.6 595.2 449.2C597.5 448.8 599.8 447.9 602.0 448.1C604.3 448.2 606.6 449.7 608.9 450.1C611.2 450.6 613.5 450.4 615.8 450.8C618.1 451.3 620.3 452.4 622.6 452.9C624.9 453.4 627.2 453.5 629.5 453.8C631.8 454.1 634.1 454.3 636.4 454.7C638.6 455.1 640.9 455.9 643.2 456.3C645.5 456.7 647.8 457.0 650.1 457.0C652.4 457.0 654.7 456.7 656.9 456.6C659.2 456.5 661.5 456.5 663.8 456.3C666.1 456.1 668.4 455.6 670.7 455.2C673.0 454.8 675.5 454.2 677.5 453.8C679.6 453.5 681.2 452.9 683.0 452.9C684.8 452.8 686.4 453.6 688.5 453.6C690.6 453.6 693.4 453.0 695.5 452.9C697.6 452.8 699.2 452.5 701.0 452.9C702.8 453.2 704.6 454.4 706.5 454.9C708.3 455.5 709.7 455.9 712.0 456.0C714.2 456.2 717.7 456.2 720.2 456.0C722.7 455.9 724.8 455.2 727.1 454.9C729.3 454.6 731.4 454.3 733.9 454.3C736.4 454.3 739.9 455.1 742.2 454.9C744.4 454.8 745.8 453.9 747.6 453.3C749.5 452.7 751.3 451.5 753.1 451.5C755.0 451.5 756.8 452.5 758.6 453.3C760.5 454.0 762.3 455.1 764.1 456.0C765.9 457.0 767.8 458.2 769.6 458.8C771.4 459.3 773.3 459.3 775.1 459.3C776.9 459.3 778.8 458.9 780.6 458.8C782.4 458.7 784.5 458.4 786.1 458.8C787.7 459.2 788.6 460.0 790.2 461.1C791.8 462.2 793.6 464.2 795.7 465.2C797.7 466.3 800.3 467.0 802.5 467.3C804.8 467.6 807.0 466.9 809.4 467.0C811.8 467.1 814.5 467.6 816.9 468.0C819.2 468.4 821.2 469.1 823.7 469.4C826.2 469.6 829.0 469.2 832.0 469.4C834.9 469.5 838.8 470.1 841.6 470.0C844.3 470.0 846.1 469.2 848.4 468.9C850.7 468.7 853.0 468.8 855.3 468.4C857.6 468.0 860.1 467.0 862.2 466.6C864.2 466.2 865.6 466.6 867.6 466.2C869.7 465.8 872.7 465.2 874.5 464.3C876.3 463.3 877.0 462.0 878.6 460.4C880.2 458.8 882.3 456.2 884.1 454.7C885.9 453.1 887.8 452.5 889.6 451.1C891.4 449.7 893.7 447.6 895.1 446.4C896.5 445.3 896.7 444.7 897.8 444.2C899.0 443.8 900.6 443.6 902.0 443.7C903.3 443.8 904.5 444.5 906.1 444.6C907.7 444.8 909.9 444.5 911.6 444.6C913.3 444.8 915.0 445.1 916.4 445.6C917.7 446.1 918.4 447.0 919.8 447.8C921.2 448.6 923.8 450.1 924.6 450.5" stroke="#fdd835" stroke-width="1.1" fill="none" stroke-linejoin="round"/>
<path d="M11.1 473.1L14.3 468.0L16.9 453.6L20.4 464.8L23.6 459.3L26.7 445.1L29.2 435.7L32.0 432.7L36.1 434.1L39.1 445.3L42.3 430.5L45.4 436.4L48.4 433.7L51.6 435.5L54.2 433.3L57.4 444.6L60.1 439.6L64.1 461.5L67.1 458.0L70.0 454.9L73.1 471.7L76.4 473.5L79.3 474.8L82.5 468.7L85.2 458.0L88.2 462.9L92.1 452.5L95.1 451.1L98.3 448.8L100.9 439.6L104.4 442.6L107.6 435.7L110.2 427.8L113.2 447.4L116.4 436.4L119.8 435.7L123.1 433.7L126.3 442.6L129.3 441.5L132.4 454.9L135.6 465.9L137.9 472.8L141.1 474.8L144.2 480.7L147.9 474.8L151.1 472.8L154.2 477.6L157.4 483.1L160.0 489.3L163.2 481.0L166.3 479.0L169.1 487.6L172.1 481.0L175.1 489.9L178.9 488.6L182.2 495.4L185.3 498.9L188.1 501.9L191.3 497.5L194.0 494.5L197.1 498.2L200.2 486.5L203.0 472.1L207.1 486.2L209.8 460.4L213.0 477.6L216.0 479.4L218.7 484.5L222.2 492.0L225.3 496.1L228.4 494.1L231.4 482.4L234.9 477.6L238.0 481.7L240.7 480.7L244.1 483.1L247.3 481.3L250.3 486.5L253.3 480.7L256.9 479.9L259.2 476.6L263.1 484.0L266.2 481.3L269.0 492.3L272.0 485.4L275.0 496.4L278.0 481.7L281.2 492.0L284.9 493.4L287.9 493.6L291.1 494.7L294.2 491.7L297.2 497.5L299.8 511.2L303.5 505.7L306.7 503.9L309.7 504.4L312.9 506.4L315.9 508.2L319.1 508.7L322.2 505.5L325.2 509.2L328.4 504.4L330.7 499.5L334.2 487.6L337.7 492.0L340.9 496.1L343.9 500.2L347.1 507.4L350.2 494.1L353.2 486.5L356.4 477.6L359.4 481.3L362.3 486.5L365.0 461.8L368.7 461.8L371.9 461.5L375.1 458.8L378.1 451.5L381.2 458.0L384.4 469.4L387.4 475.5L390.6 480.3L393.5 480.7L396.7 474.2L399.9 464.5L402.5 456.0L406.1 456.3L409.2 463.2L412.4 458.0L415.1 453.8L418.5 458.8L421.7 445.3L424.7 439.6L427.9 438.2L431.0 440.1L434.1 443.3L436.9 430.0L440.4 447.4L443.4 449.5L446.5 451.9L449.7 468.7L452.7 484.5L455.1 489.9L459.0 479.6L462.1 468.7L465.2 454.7L468.4 454.9L471.4 463.2L474.0 468.9L477.7 462.1L480.0 458.4L483.1 467.3L487.0 453.6L490.1 445.6L493.2 451.5L496.4 452.9L499.4 467.3L502.0 473.9L505.7 468.0L507.9 465.6L511.3 466.6L514.1 465.2L518.1 471.1L520.9 479.0L524.4 469.4L527.4 463.2L530.1 457.0L531.2 482.4L533.0 503.7L536.0 508.5L539.5 510.5L541.9 474.8L546.1 463.2L549.2 456.3L552.2 453.3L555.4 450.8L558.5 447.8L561.1 446.0L563.9 448.8L567.0 444.6L570.1 452.5L574.0 453.8L576.9 447.0L580.1 449.2L583.1 444.6L586.1 453.8L589.0 451.5L592.2 454.9L595.2 446.0L598.9 441.5L602.0 438.5L605.2 454.7L607.9 458.8L611.0 457.4L614.0 464.3L617.0 448.4L620.7 457.0L623.3 460.4L626.1 461.1L629.2 451.9L632.9 458.4L635.9 457.0L639.1 461.8L642.1 447.8L645.3 449.2L648.4 458.4L651.5 461.8L654.6 458.8L657.2 460.4L661.1 449.2L664.2 455.6L667.4 450.8L670.3 448.8L673.3 452.5L676.2 447.8L679.2 446.4L682.3 451.9L685.1 446.4L688.8 458.4L691.9 451.1L695.1 462.1L698.2 455.6L701.5 463.2L704.1 469.4L707.2 466.6L710.9 458.8L714.0 452.9L717.2 448.1L719.9 451.9L722.9 442.9L726.5 442.3L729.3 442.3L732.3 446.7L735.3 454.3L738.0 468.7L741.1 459.3L744.9 458.0L748.2 446.7L751.4 452.5L754.5 460.4L757.0 466.6L760.0 463.2L763.0 472.8L766.9 466.6L770.0 461.5L773.2 454.3L776.2 445.3L779.4 449.5L782.4 457.7L785.0 467.3L788.1 470.7L790.9 485.8L794.0 488.2L797.1 476.6L801.0 476.2L803.9 474.4L807.4 465.6L812.7 461.8L815.8 463.2L819.3 457.4L822.1 454.3L825.1 470.3L828.5 466.6L831.7 470.0L834.7 480.7L838.1 485.8L841.3 488.6L844.0 465.9L847.3 467.6L850.6 464.3L853.6 460.7L856.7 453.8L859.7 452.5L863.3 448.4L866.0 459.3L869.0 453.3L872.0 461.5L875.2 451.5L877.9 442.6L881.1 445.1L884.8 436.4L888.0 429.5L891.0 433.7L893.7 430.2L896.9 427.2L899.9 439.2L903.1 453.3L906.1 460.4L909.5 458.0L912.3 458.0L916.0 463.5L919.1 475.5L922.3 473.9L925.0 463.2" stroke="#7e57c2" stroke-width="1.0" fill="none" stroke-linejoin="round"/>
</g>
<text y="117" font-size="22.8" font-weight="700" fill="#000" stroke="#000" stroke-width="0.3"><tspan x="640.0" textLength="100.2" lengthAdjust="spacingAndGlyphs">AUD/USD</tspan> <tspan x="747.6" textLength="63.6" lengthAdjust="spacingAndGlyphs">DAILY</tspan> <tspan x="818.2" textLength="75.2" lengthAdjust="spacingAndGlyphs">CHART</tspan></text>
<text transform="translate(950.70 52.00) scale(0.9380 1)" font-size="12.4" fill="#0c0e15" stroke="#0c0e15" stroke-width="0.2">0.70000</text>
<text transform="translate(950.70 83.00) scale(0.9380 1)" font-size="12.4" fill="#0c0e15" stroke="#0c0e15" stroke-width="0.2">0.69000</text>
<text transform="translate(950.70 114.00) scale(0.9380 1)" font-size="12.4" fill="#0c0e15" stroke="#0c0e15" stroke-width="0.2">0.68000</text>
<text transform="translate(950.70 145.00) scale(0.9380 1)" font-size="12.4" fill="#0c0e15" stroke="#0c0e15" stroke-width="0.2">0.67000</text>
<text transform="translate(950.70 176.00) scale(0.9380 1)" font-size="12.4" fill="#0c0e15" stroke="#0c0e15" stroke-width="0.2">0.66000</text>
<text transform="translate(950.70 268.00) scale(0.9380 1)" font-size="12.4" fill="#0c0e15" stroke="#0c0e15" stroke-width="0.2">0.63000</text>
<text transform="translate(950.70 299.00) scale(0.9380 1)" font-size="12.4" fill="#0c0e15" stroke="#0c0e15" stroke-width="0.2">0.62000</text>
<text transform="translate(950.70 330.00) scale(0.9380 1)" font-size="12.4" fill="#0c0e15" stroke="#0c0e15" stroke-width="0.2">0.61000</text>
<text transform="translate(950.70 361.00) scale(0.9380 1)" font-size="12.4" fill="#0c0e15" stroke="#0c0e15" stroke-width="0.2">0.60000</text>
<text transform="translate(950.70 392.00) scale(0.9380 1)" font-size="12.4" fill="#0c0e15" stroke="#0c0e15" stroke-width="0.2">0.59000</text>
<rect x="943" y="171.0" width="56" height="17" rx="1.5" fill="#089981"/>
<text transform="translate(950.70 184.00) scale(0.9450 1)" font-size="12.5" fill="#fff" stroke="#fff" stroke-width="0.45">0.65761</text>
<rect x="943" y="188.0" width="56" height="17" rx="1.5" fill="#2a2af5"/>
<text transform="translate(950.70 201.00) scale(0.9450 1)" font-size="12.5" fill="#fff" stroke="#fff" stroke-width="0.45">0.65396</text>
<rect x="943" y="205.0" width="56" height="17" rx="1.5" fill="#9e9e9e"/>
<text transform="translate(950.70 218.00) scale(0.9450 1)" font-size="12.5" fill="#131722" stroke="#131722" stroke-width="0.25">0.65176</text>
<rect x="943" y="223.8" width="56" height="17" rx="1.5" fill="#000"/>
<text transform="translate(950.70 236.80) scale(0.9450 1)" font-size="12.5" fill="#fff" stroke="#fff" stroke-width="0.45">0.64033</text>
<rect x="943" y="295.9" width="56" height="17" rx="1.5" fill="#1f0a4d"/>
<text transform="translate(950.70 308.90) scale(0.9450 1)" font-size="12.5" fill="#fff" stroke="#fff" stroke-width="0.45">0.61699</text>
<text transform="translate(950.70 488.10) scale(0.9380 1)" font-size="12.4" fill="#0c0e15" stroke="#0c0e15" stroke-width="0.2">40.00</text>
<rect x="943" y="439.0" width="43" height="17" rx="1.5" fill="#fdd835"/>
<text transform="translate(950.70 452.00) scale(0.9450 1)" font-size="12.5" fill="#131722" stroke="#131722" stroke-width="0.25">57.49</text>
<rect x="943" y="455.9" width="43" height="17" rx="1.5" fill="#7e57c2"/>
<text transform="translate(950.70 468.90) scale(0.9450 1)" font-size="12.5" fill="#fff" stroke="#fff" stroke-width="0.45">50.53</text>
<text transform="translate(60.40 573.00) scale(0.9400 1)" font-size="12.1" text-anchor="middle" fill="#0c0e15" stroke="#0c0e15" stroke-width="0.2">Sep</text>
<text transform="translate(125.70 573.00) scale(0.9400 1)" font-size="12.1" text-anchor="middle" fill="#0c0e15" stroke="#0c0e15" stroke-width="0.2">Oct</text>
<text transform="translate(197.20 573.00) scale(0.9400 1)" font-size="12.1" text-anchor="middle" fill="#0c0e15" stroke="#0c0e15" stroke-width="0.2">Nov</text>
<text transform="translate(262.40 573.00) scale(0.9400 1)" font-size="12.1" text-anchor="middle" fill="#0c0e15" stroke="#0c0e15" stroke-width="0.2">Dec</text>
<text transform="translate(328.00 573.00) scale(0.9400 1)" font-size="12.1" font-weight="700" text-anchor="middle" fill="#0c0e15" stroke="#0c0e15" stroke-width="0.2">2025</text>
<text transform="translate(396.20 573.00) scale(0.9400 1)" font-size="12.1" text-anchor="middle" fill="#0c0e15" stroke="#0c0e15" stroke-width="0.2">Feb</text>
<text transform="translate(458.30 573.00) scale(0.9400 1)" font-size="12.1" text-anchor="middle" fill="#0c0e15" stroke="#0c0e15" stroke-width="0.2">Mar</text>
<text transform="translate(523.60 573.00) scale(0.9400 1)" font-size="12.1" text-anchor="middle" fill="#0c0e15" stroke="#0c0e15" stroke-width="0.2">Apr</text>
<text transform="translate(592.00 573.00) scale(0.9400 1)" font-size="12.1" text-anchor="middle" fill="#0c0e15" stroke="#0c0e15" stroke-width="0.2">May</text>
<text transform="translate(660.70 573.00) scale(0.9400 1)" font-size="12.1" text-anchor="middle" fill="#0c0e15" stroke="#0c0e15" stroke-width="0.2">Jun</text>
<text transform="translate(726.00 573.00) scale(0.9400 1)" font-size="12.1" text-anchor="middle" fill="#0c0e15" stroke="#0c0e15" stroke-width="0.2">Jul</text>
<text transform="translate(797.30 573.00) scale(0.9400 1)" font-size="12.1" text-anchor="middle" fill="#0c0e15" stroke="#0c0e15" stroke-width="0.2">Aug</text>
<text transform="translate(862.70 573.00) scale(0.9400 1)" font-size="12.1" text-anchor="middle" fill="#0c0e15" stroke="#0c0e15" stroke-width="0.2">Sep</text>
<text transform="translate(931.00 573.00) scale(0.9400 1)" font-size="12.1" text-anchor="middle" fill="#0c0e15" stroke="#0c0e15" stroke-width="0.2">Oct</text>
<g transform="translate(12,601.5) scale(0.8333)" fill="#111"><path d="M14 22H7V11H0V4h14v18zM28 22h-8l7.5-18h8L28 22z"/><circle cx="20" cy="8" r="4"/></g>
<text x="48.5" y="619.8" font-size="20.5" font-weight="700" fill="#111" stroke="#111" stroke-width="0.35" textLength="121" lengthAdjust="spacingAndGlyphs">TradingView</text>
</svg>
</body>
</html>
